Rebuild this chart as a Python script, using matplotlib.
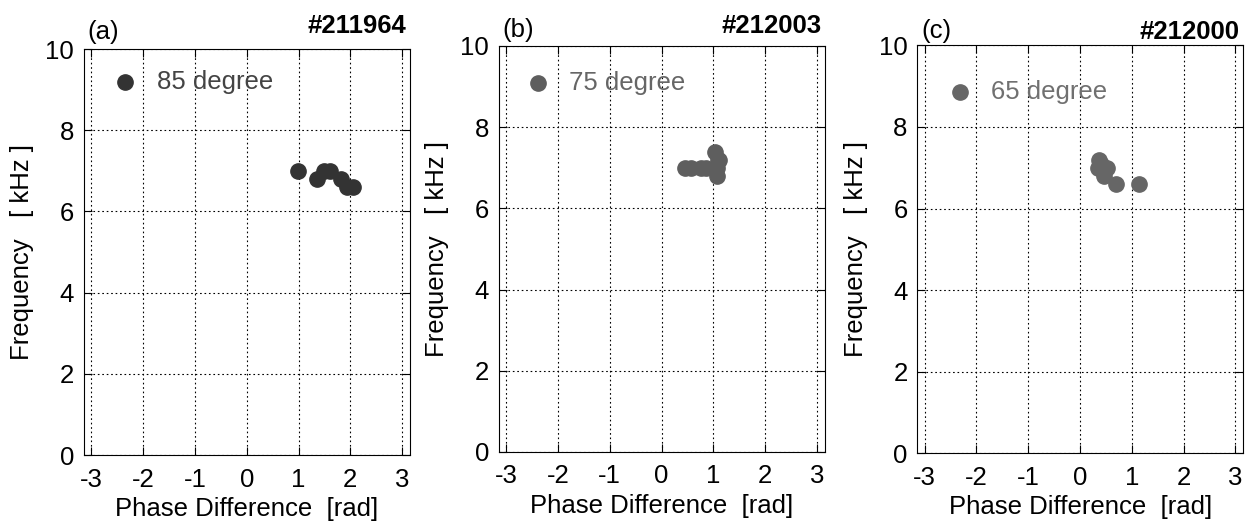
import numpy as np
import matplotlib.pyplot as plt

plt.rcParams['font.family'] = ['Liberation Sans', 'DejaVu Sans']
plt.rcParams['axes.unicode_minus'] = False

# dati
shots = ['#211964', '#212003', '#212000']
panel_tags = ['(a)', '(b)', '(c)']
angles = ['85 degree', '75 degree', '65 degree']

phase_a = [0.99, 1.36, 1.49, 1.61, 1.81, 1.94, 2.06]
freq_a = [7.0, 6.8, 7.0, 7.0, 6.8, 6.6, 6.6]

phase_b = [0.45, 0.57, 0.77, 0.86, 1.03, 1.08, 1.06, 1.07, 1.10]
freq_b = [7.0, 7.0, 7.0, 7.0, 7.4, 7.2, 7.0, 6.8, 7.2]

phase_c = [0.37, 0.34, 0.53, 0.46, 0.69, 1.14, 0.40]
freq_c = [7.2, 7.0, 7.0, 6.8, 6.6, 6.6, 7.1]

phases = [phase_a, phase_b, phase_c]
freqs = [freq_a, freq_b, freq_c]

marker_colors = ['#333333', '#5e5e5e', '#666666']
label_colors = ['#444444', '#666666', '#707070']
legend_pos = [(-2.34, 9.19), (-2.38, 9.1), (-2.32, 8.85)]
tag_offset = [0.025, 0.022, 0.017]
shot_offset = [0.04, 0.032, 0.015]

fig = plt.figure(figsize=(12.51, 5.23), dpi=100)
boxes = [
    [0.0671, 0.130, 0.2606, 0.7763],
    [0.3986, 0.1358, 0.2608, 0.7763],
    [0.7333, 0.1333, 0.2604, 0.780],
]

for i in range(3):
    ax = fig.add_axes(boxes[i])
    ax.plot(phases[i], freqs[i], 'o', color=marker_colors[i], markersize=11, zorder=3)

    # legenda manuale
    lx, ly = legend_pos[i]
    ax.plot([lx], [ly], 'o', color=marker_colors[i], markersize=11)
    ax.text(lx + 0.6, ly, angles[i], color=label_colors[i], fontsize=18.5, va='center')

    ax.set_xlim(-3.14, 3.15)
    ax.set_ylim(0, 10)
    ax.set_xticks([-3, -2, -1, 0, 1, 2, 3])
    ax.set_yticks([0, 2, 4, 6, 8, 10])
    ax.grid(True, color='black', linestyle=(0, (1.5, 2.5)), linewidth=0.8)
    ax.tick_params(direction='in', top=True, right=True, labelsize=18.5, length=6)
    ax.tick_params(axis='x', pad=9)
    ax.tick_params(axis='y', pad=7)

    ax.set_xlabel('Phase Difference  [rad]', fontsize=18.5, labelpad=4)
    ax.set_ylabel('Frequency   [ kHz ]', fontsize=18.5, labelpad=8)

    ax.text(0.012, 1 + tag_offset[i], panel_tags[i], transform=ax.transAxes, fontsize=18.5,
            va='baseline', ha='left')
    ax.text(0.99, 1 + shot_offset[i], shots[i], transform=ax.transAxes, fontsize=18.5,
            fontweight='bold', va='baseline', ha='right')

plt.savefig('out.png', dpi=100)
